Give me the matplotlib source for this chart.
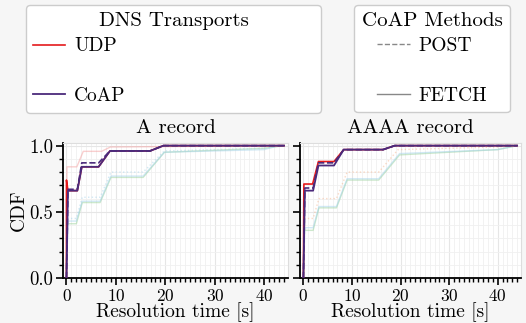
import matplotlib
matplotlib.use("Agg")
import matplotlib.pyplot as plt
from matplotlib.lines import Line2D
from matplotlib.ticker import MultipleLocator, FormatStrFormatter

plt.rcParams['font.family'] = ['cmr10', 'DejaVu Serif']
plt.rcParams['axes.formatter.use_mathtext'] = True
plt.rcParams['mathtext.fontset'] = 'cm'

# ---- data: A record ----
a_udp_t = [0, 0, 0.3, 2.2, 3.1, 6.5, 8.8, 16.9, 19.6, 44]
a_udp_y = [0, 0.74, 0.66, 0.66, 0.84, 0.84, 0.96, 0.96, 1.0, 1.0]
a_fetch_t = [0, 0.3, 2.2, 3.1, 6.5, 8.8, 16.9, 19.6, 44]
a_fetch_y = [0, 0.66, 0.66, 0.84, 0.84, 0.96, 0.96, 1.0, 1.0]
a_post_t = [0, 0.3, 2.2, 3.1, 6.5, 8.8, 16.9, 19.6, 44]
a_post_y = [0, 0.67, 0.67, 0.87, 0.87, 0.96, 0.96, 1.0, 1.0]
a_udp2_t = [0, 0.1, 2.1, 3.4, 7.1, 8.9, 44]
a_udp2_y = [0, 0.84, 0.84, 0.957, 0.957, 0.99, 1.0]
a_fetch2_t = [0, 0.3, 2.0, 3.2, 6.8, 9.0, 15.5, 19.8, 40, 43]
a_fetch2_y = [0, 0.43, 0.43, 0.58, 0.58, 0.77, 0.77, 0.95, 0.97, 1.0]
a_post2_t = [0, 0.3, 2.0, 3.2, 6.8, 9.0, 15.5, 19.8, 40, 43]
a_post2_y = [0, 0.45, 0.45, 0.61, 0.61, 0.80, 0.80, 0.96, 0.98, 1.0]
a_green_t = [0, 0.2, 2.0, 3.2, 6.8, 9.0, 15.5, 19.8, 40, 44]
a_green_y = [0, 0.41, 0.41, 0.57, 0.57, 0.76, 0.76, 0.95, 0.98, 1.0]

# ---- data: AAAA record ----
q_udp_t = [0, 0.1, 1.9, 3.1, 6.3, 8.3, 16.4, 18.8, 44]
q_udp_y = [0, 0.71, 0.71, 0.88, 0.88, 0.97, 0.97, 1.0, 1.0]
q_fetch_t = [0, 0.3, 2.0, 3.1, 6.3, 8.3, 16.4, 18.8, 44]
q_fetch_y = [0, 0.66, 0.66, 0.85, 0.85, 0.97, 0.97, 1.0, 1.0]
q_post_t = [0, 0.3, 2.0, 3.1, 6.3, 8.3, 16.4, 18.8, 44]
q_post_y = [0, 0.68, 0.68, 0.87, 0.87, 0.97, 0.97, 1.0, 1.0]
q_post2_t = [0, 0.3, 2.0, 3.2, 6.8, 9.0, 15.5, 19.5, 40, 44]
q_post2_y = [0, 0.45, 0.45, 0.60, 0.60, 0.80, 0.80, 0.97, 0.99, 1.0]
q_fetch2_t = [0, 0.3, 2.0, 3.2, 6.8, 9.0, 15.5, 19.8, 40, 44]
q_fetch2_y = [0, 0.38, 0.38, 0.54, 0.54, 0.75, 0.75, 0.94, 0.97, 1.0]
q_green_t = [0, 0.2, 2.0, 3.2, 6.8, 9.0, 15.5, 19.8, 40, 44]
q_green_y = [0, 0.36, 0.36, 0.53, 0.53, 0.74, 0.74, 0.93, 0.97, 1.0]

titles = ["A record", "AAAA record"]
transports = ["UDP", "CoAP"]
methods = ["POST", "FETCH"]

RED = "#e41a1c"
PURPLE = "#4b2a7b"

fig = plt.figure(figsize=(5.26, 3.23), dpi=100, facecolor="#f6f6f6")
W, H = 526, 323

def ax_at(x0, y0, x1, y1):
    return fig.add_axes([x0 / W, 1 - y1 / H, (x1 - x0) / W, (y1 - y0) / H])

ax1 = ax_at(63, 143, 288, 278)
ax2 = ax_at(300, 143, 521, 278)

panels = [
    (ax1, a_udp_t, a_udp_y, a_fetch_t, a_fetch_y, a_post_t, a_post_y,
     [(a_green_t, a_green_y, "#9ad29a", "-"),
      (a_udp2_t, a_udp2_y, "#f4a0a0", "-"),
      (a_fetch2_t, a_fetch2_y, "#a6d4ec", "-"),
      (a_post2_t, a_post2_y, "#a6d4ec", ":")]),
    (ax2, q_udp_t, q_udp_y, q_fetch_t, q_fetch_y, q_post_t, q_post_y,
     [(q_green_t, q_green_y, "#9ad29a", "-"),
      (q_post2_t, q_post2_y, "#f7b58f", ":"),
      (q_fetch2_t, q_fetch2_y, "#a6d4ec", "-")]),
]

for i, (ax, ut, uy, ft, fy, pt, py, faded) in enumerate(panels):
    ax.set_facecolor("white")
    for t, y, c, ls in faded:
        ax.plot(t, y, color=c, ls=ls, lw=1.0, alpha=0.5, zorder=2)
    ax.plot(ut, uy, color=RED, lw=1.2, zorder=3)
    ax.plot(pt, py, color=PURPLE, lw=1.2, ls="--", zorder=4)
    ax.plot(ft, fy, color=PURPLE, lw=1.3, zorder=5)
    ax.set_xlim(-0.7, 44.8)
    ax.set_ylim(0, 1.02)
    ax.xaxis.set_major_locator(MultipleLocator(10))
    ax.xaxis.set_minor_locator(MultipleLocator(1))
    ax.yaxis.set_major_locator(MultipleLocator(0.5))
    ax.yaxis.set_minor_locator(MultipleLocator(0.1))
    ax.grid(True, which="major", color="#e6e6e6", lw=0.8)
    ax.grid(True, which="minor", color="#f0f0f0", lw=0.6)
    ax.set_axisbelow(True)
    for s in ["top", "right"]:
        ax.spines[s].set_color("#dddddd")
    for s in ["left", "bottom"]:
        ax.spines[s].set_color("black")
        ax.spines[s].set_linewidth(1.3)
    ax.tick_params(which="major", direction="out", length=5, width=1.2, pad=2)
    ax.tick_params(axis="x", which="major", labelsize=12.5, pad=2)
    ax.tick_params(axis="y", which="major", labelsize=13.5)
    ax.tick_params(which="minor", direction="out", length=3, width=1.0)
    ax.set_title(titles[i], fontsize=15, pad=7)
    ax.set_xlabel("Resolution time [s]", fontsize=14, labelpad=-1)
    if i == 0:
        ax.set_ylabel("CDF", fontsize=14, labelpad=1)
        ax.yaxis.set_major_formatter(FormatStrFormatter("%.1f"))
    else:
        ax.tick_params(labelleft=False)

blank = Line2D([], [], color="none")
h1 = [Line2D([], [], color=RED, lw=1.2), blank, Line2D([], [], color=PURPLE, lw=1.3)]
h2 = [Line2D([], [], color="#888888", lw=1.0, ls="--"), blank, Line2D([], [], color="#888888", lw=1.0)]

common = dict(fontsize=14, title_fontsize=15,
              labelspacing=0.36, borderaxespad=0, frameon=True, fancybox=True,
              handletextpad=0.45, handlelength=1.65, borderpad=0.38)
leg1 = fig.legend(h1, [transports[0], "", transports[1]], title="DNS Transports",
                  loc="upper left", mode="expand",
                  bbox_to_anchor=(26 / W, 1 - 110 / H, (321 - 26) / W, 105 / H), **common)
leg2 = fig.legend(h2, [methods[0], "", methods[1]], title="CoAP Methods",
                  loc="upper right",
                  bbox_to_anchor=(510 / W, 1 - 5 / H), **common)
for lg in (leg1, leg2):
    lg.get_frame().set_edgecolor("#cccccc")
    lg.get_frame().set_facecolor("white")
    lg.get_frame().set_alpha(1)

fig.savefig("out.png", dpi=100, facecolor=fig.get_facecolor())
